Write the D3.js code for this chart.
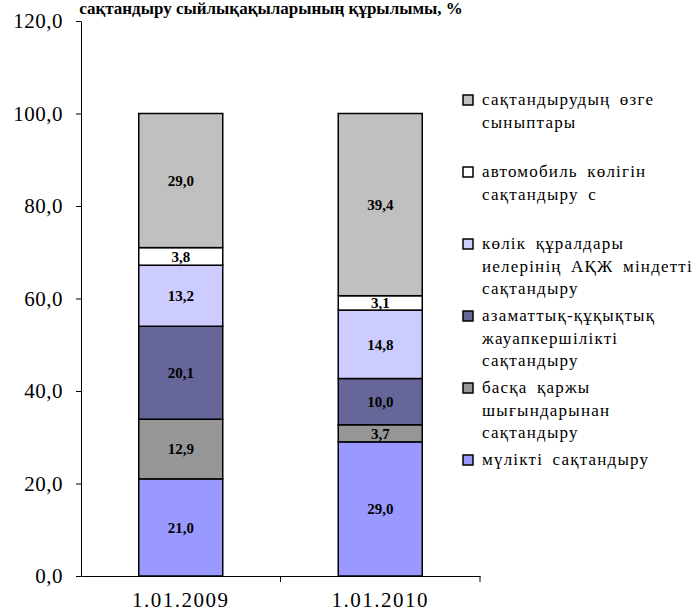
<!DOCTYPE html>
<html>
<head>
<meta charset="utf-8">
<script src="https://cdn.jsdelivr.net/npm/d3@7"></script>
<style>
  body { margin: 0; background: #fff; }
</style>
</head>
<body>
<div id="chart"></div>
<script>
// data
var categories = ["1.01.2009", "1.01.2010"];
var seriesNames = [
  "мүлікті сақтандыру",
  "басқа қаржы шығындарынан сақтандыру",
  "азаматтық-құқықтық жауапкершілікті сақтандыру",
  "көлік құралдары иелерінің АҚЖ міндетті сақтандыру",
  "автомобиль көлігін сақтандыру с",
  "сақтандырудың өзге сыныптары"
];
var values2009 = [21.0, 12.9, 20.1, 13.2, 3.8, 29.0];
var values2010 = [29.0, 3.7, 10.0, 14.8, 3.1, 39.4];
var yTicks = [0, 20, 40, 60, 80, 100, 120];
// legend lines, top entry first
var legendLines = [
  ["сақтандырудың өзге", "сыныптары"],
  ["автомобиль көлігін", "сақтандыру с"],
  ["көлік құралдары", "иелерінің АҚЖ міндетті", "сақтандыру"],
  ["азаматтық-құқықтық", "жауапкершілікті", "сақтандыру"],
  ["басқа қаржы", "шығындарынан", "сақтандыру"],
  ["мүлікті сақтандыру"]
];
var colors = ["#9999ff", "#969696", "#666699", "#ccccff", "#ffffff", "#c0c0c0"];

var serif = "'Liberation Serif', 'Times New Roman', serif";
var width = 699, height = 615;
var svg = d3.select("#chart")
  .append("svg")
    .attr("width", width)
    .attr("height", height)
    .attr("font-family", serif);

var comma = function(v) { return d3.format(".1f")(v).replace(".", ","); };

// title (only the second line is visible in the frame)
svg.append("text")
  .attr("x", 271)
  .attr("y", 14)
  .attr("text-anchor", "middle")
  .style("font-family", serif)
  .style("font-size", "17px")
  .style("font-weight", "bold")
  .text("сақтандыру сыйлықақыларының құрылымы, %");

// scales
var x = d3.scaleBand()
  .domain(categories)
  .range([81, 480]);
var y = d3.scaleLinear()
  .domain([0, 120])
  .range([576, 21]);

// stacked data
var rows = categories.map(function(c, i) {
  var vals = i === 0 ? values2009 : values2010;
  var row = { cat: c };
  seriesNames.forEach(function(s, j) { row[s] = vals[j]; });
  return row;
});
var stack = d3.stack().keys(seriesNames)(rows);

var barW = 84;
var layers = svg.append("g")
  .selectAll("g")
  .data(stack)
  .enter()
  .append("g")
    .style("fill", function(d, i) { return colors[i]; });

layers.selectAll("rect")
  .data(function(d) { return d; })
  .enter()
  .append("rect")
    .attr("x", function(d) { return x(d.data.cat) + x.bandwidth() / 2 - barW / 2; })
    .attr("y", function(d) { return y(d[1]); })
    .attr("width", barW)
    .attr("height", function(d) { return y(d[0]) - y(d[1]); })
    .attr("stroke", "#000")
    .attr("stroke-width", 1.5);

layers.selectAll("text")
  .data(function(d) { return d; })
  .enter()
  .append("text")
    .attr("x", function(d) { return x(d.data.cat) + x.bandwidth() / 2; })
    .attr("y", function(d) { return (y(d[0]) + y(d[1])) / 2; })
    .attr("dy", "0.35em")
    .attr("text-anchor", "middle")
    .style("fill", "#000")
    .style("font-family", serif)
    .style("font-size", "15px")
    .style("font-weight", "bold")
    .text(function(d) { return comma(d[1] - d[0]); });

// y axis
var yAxis = svg.append("g")
  .attr("transform", "translate(81,0)")
  .call(d3.axisLeft(y).tickValues(yTicks).tickFormat(comma).tickSize(5).tickPadding(13).tickSizeOuter(0));
yAxis.attr("font-family", serif);
yAxis.selectAll("text").style("font-family", serif).style("font-size", "21px").style("letter-spacing", "0.5px").attr("fill", "#000");
yAxis.selectAll("line, path").attr("stroke", "#000");

// x axis
var xAxis = svg.append("g")
  .attr("transform", "translate(0,576)")
  .call(d3.axisBottom(x).tickSize(0).tickPadding(16).tickSizeOuter(0));
xAxis.attr("font-family", serif);
xAxis.select(".domain").attr("stroke", "#000");
xAxis.selectAll("text").style("font-family", serif).style("font-size", "21px").style("letter-spacing", "1.5px").attr("fill", "#000");
// ticks between categories
xAxis.selectAll(".sep")
  .data(categories)
  .enter()
  .append("line")
    .attr("x1", function(d) { return x(d) + x.bandwidth(); })
    .attr("x2", function(d) { return x(d) + x.bandwidth(); })
    .attr("y1", 0)
    .attr("y2", 6)
    .attr("stroke", "#000");

// legend
var legend = svg.append("g");
var item = legend.selectAll("g")
  .data(legendLines)
  .enter()
  .append("g")
    .attr("transform", function(d, i) { return "translate(463," + (100 + i * 72) + ")"; });
item.append("rect")
  .attr("x", 0)
  .attr("y", -5)
  .attr("width", 10)
  .attr("height", 10)
  .attr("fill", function(d, i) { return colors[colors.length - 1 - i]; })
  .attr("stroke", "#000")
  .attr("stroke-width", 1.5);
item.selectAll("text")
  .data(function(d) { return d; })
  .enter()
  .append("text")
    .attr("x", 19)
    .attr("y", function(d, i) { return i * 22.5; })
    .attr("dy", "0.32em")
    .style("font-family", serif)
    .style("font-size", "17px")
    .style("letter-spacing", "1.2px")
    .style("word-spacing", "4px")
    .text(function(d) { return d; });
</script>
</body>
</html>
